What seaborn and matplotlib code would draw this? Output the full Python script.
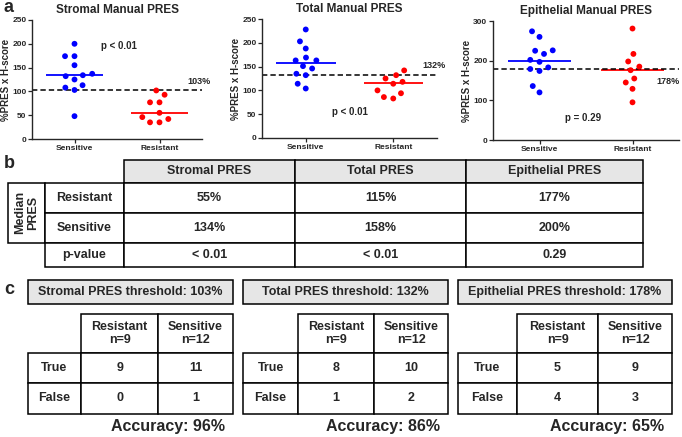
import matplotlib
matplotlib.use("Agg")
import matplotlib.pyplot as plt
from matplotlib.patches import Rectangle
import seaborn as sns
import pandas as pd

# panel a: %PRES x H-score per patient
stromal_sensitive = [200, 174, 174, 155, 137, 134, 132, 125, 113, 108, 103, 48]
stromal_resistant = [102, 93, 77, 77, 55, 46, 42, 35, 35]
total_sensitive = [228, 203, 188, 169, 163, 163, 151, 146, 135, 132, 114, 104]
total_resistant = [142, 132, 125, 118, 114, 100, 94, 86, 83]
epi_sensitive = [274, 260, 226, 225, 217, 202, 197, 183, 179, 174, 136, 120]
epi_resistant = [281, 217, 198, 185, 176, 155, 145, 129, 95]

groups = ["Sensitive", "Resistant"]
titles = ["Stromal Manual PRES", "Total Manual PRES", "Epithelial Manual PRES"]
thresholds = [103, 132, 178]
median_sensitive = [134, 158, 200]
median_resistant = [55, 115, 177]
p_labels = ["p < 0.01", "p < 0.01", "p = 0.29"]
y_max = [250, 250, 300]
y_step = [50, 50, 100]

# panel b
table_cols = ["Stromal PRES", "Total PRES", "Epithelial PRES"]
table_rows = ["Resistant", "Sensitive", "p-value"]
p_values = ["< 0.01", "< 0.01", "0.29"]

# panel c
short_names = ["Stromal", "Total", "Epithelial"]
true_counts = [[9, 11], [8, 10], [5, 9]]
false_counts = [[0, 1], [1, 2], [4, 3]]
accuracy = [96, 86, 65]

sns.set_style("ticks")
plt.rcParams['font.family'] = ['Liberation Sans', 'DejaVu Sans']
plt.rcParams['font.weight'] = 'bold'

W, H = 682, 437
fig = plt.figure(figsize=(W / 100, H / 100), dpi=100)

# overlay in pixel coordinates for tables and panel letters
ov = fig.add_axes([0, 0, 1, 1])
ov.set_xlim(0, W)
ov.set_ylim(H, 0)
ov.axis('off')

GRAY = '#e6e6e6'


def add_axes_px(l, t, r, b):
    return fig.add_axes([l / W, 1 - b / H, (r - l) / W, (b - t) / H])


def cell(x0, y0, x1, y1, text="", fill='white', rot=0, fs=9):
    ov.add_patch(Rectangle((x0, y0), x1 - x0, y1 - y0, fc=fill,
                           ec='black', lw=1.1))
    if text:
        ov.text((x0 + x1) / 2, (y0 + y1) / 2, text, ha='center', va='center',
                fontsize=fs, fontweight='bold', rotation=rot, linespacing=1.1)


# ---- panel a ----
axes_px = [(32, 20, 202, 139), (262, 19, 437, 138), (493, 21, 679, 140)]
data_sets = [(stromal_sensitive, stromal_resistant),
             (total_sensitive, total_resistant),
             (epi_sensitive, epi_resistant)]
thr_label_pos = [(1.47, 17), (1.47, 20), (1.38, -30)]
p_pos = [(0.52, 195), (0.5, 55), (0.47, 55)]

for i, (sens, res) in enumerate(data_sets):
    l, t, r, b = axes_px[i]
    ax = add_axes_px(l, t, r, b)
    df = pd.DataFrame({'group': ['Sensitive'] * len(sens) + ['Resistant'] * len(res),
                       'value': sens + res})
    ax.hlines(median_sensitive[i], -0.34, 0.34, color='blue', lw=1.3, zorder=1)
    ax.hlines(median_resistant[i], 0.66, 1.34, color='red', lw=1.3, zorder=1)
    ax.axhline(thresholds[i], color='black', ls=(0, (3.5, 2)), lw=1.1, zorder=1)
    # invisible edge widens the swarm spacing like the Prism layout
    sns.swarmplot(data=df, x='group', y='value', hue='group', order=groups,
                  palette={'Sensitive': 'blue', 'Resistant': 'red'},
                  size=4.2, linewidth=2.3, edgecolor='none',
                  legend=False, ax=ax, zorder=3)
    ax.set_xlim(-0.5, 1.5)
    ax.set_ylim(0, y_max[i])
    ax.set_yticks(range(0, y_max[i] + 1, y_step[i]))
    sns.despine(ax=ax)
    ax.set_xlabel("")
    ax.set_ylabel("%PRES x H-score", fontsize=7, fontweight='bold')
    ax.yaxis.set_label_coords(-21 / (r - l), 0.5)
    ax.set_title(titles[i], fontsize=8.5, fontweight='bold', pad=5)
    ax.tick_params(labelsize=6, length=3, width=0.9, pad=1)
    for sp in ax.spines.values():
        sp.set_linewidth(1.0)
    for lbl in ax.get_xticklabels() + ax.get_yticklabels():
        lbl.set_fontweight('bold')
    lx, dy = thr_label_pos[i]
    ax.text(lx, thresholds[i] + dy, f"{thresholds[i]}%", ha='center', va='center',
            fontsize=6.5, fontweight='bold', clip_on=False)
    px, py = p_pos[i]
    ax.text(px, py, p_labels[i], ha='center', va='center', fontsize=7,
            fontweight='bold')

# ---- panel b ----
col_x = [124, 295, 466, 643]
row_y = [160, 182.7, 213.3, 242.7, 266.7]
for j, name in enumerate(table_cols):
    cell(col_x[j], row_y[0], col_x[j + 1], row_y[1], name, fill=GRAY)
cell(8.3, row_y[1], 45, row_y[3], "Median\nPRES", rot=90)
for r, name in enumerate(table_rows):
    cell(45, row_y[r + 1], 124, row_y[r + 2], name)
for j in range(3):
    vals = [f"{median_resistant[j]}%", f"{median_sensitive[j]}%", p_values[j]]
    for r, v in enumerate(vals):
        cell(col_x[j], row_y[r + 1], col_x[j + 1], row_y[r + 2], v)

# ---- panel c ----
tables_x = [(27.7, 81, 158.3, 232.7), (243, 298, 374, 448), (458, 517, 598, 672)]
n_res = len(stromal_resistant)
n_sens = len(stromal_sensitive)
for k, (x0, x1, x2, x3) in enumerate(tables_x):
    cell(x0, 280, x3, 304, f"{short_names[k]} PRES threshold: {thresholds[k]}%",
         fill=GRAY)
    cell(x1, 314.3, x2, 352.7, f"Resistant\nn={n_res}")
    cell(x2, 314.3, x3, 352.7, f"Sensitive\nn={n_sens}")
    for r, (lab, counts) in enumerate([("True", true_counts[k]),
                                       ("False", false_counts[k])]):
        y0 = 352.7 + r * 30.5
        y1 = y0 + 30.5
        cell(x0, y0, x1, y1, lab)
        cell(x1, y0, x2, y1, str(counts[0]))
        cell(x2, y0, x3, y1, str(counts[1]))
    ov.text(x3 - 8, 427, f"Accuracy: {accuracy[k]}%", ha='right', va='center',
            fontsize=11.5, fontweight='bold')

# panel letters
ov.text(3, 7, "a", fontsize=13, fontweight='bold', va='center', ha='left')
ov.text(4, 163, "b", fontsize=13, fontweight='bold', va='center', ha='left')
ov.text(4, 289, "c", fontsize=13, fontweight='bold', va='center', ha='left')

fig.savefig("out.png", dpi=100)
